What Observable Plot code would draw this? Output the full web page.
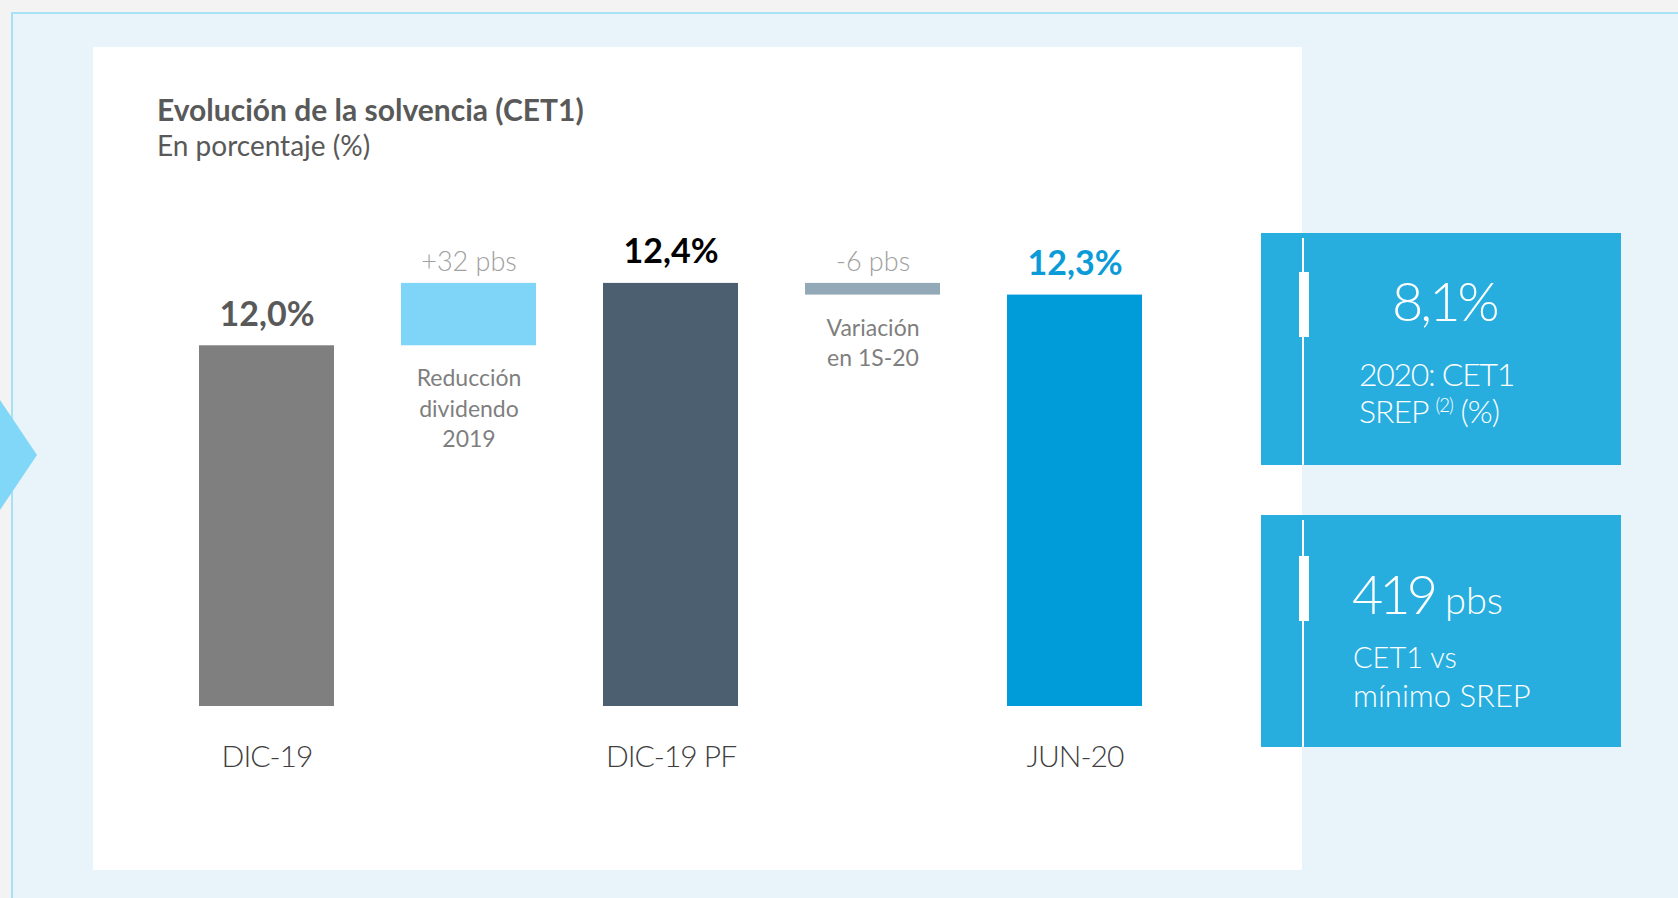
<!DOCTYPE html>
<html>
<head>
<meta charset="utf-8">
<script src="https://cdn.jsdelivr.net/npm/d3@7"></script>
<script src="https://cdn.jsdelivr.net/npm/@observablehq/plot@0.6"></script>
<style>
  html, body { margin: 0; padding: 0; }
  body { width: 1678px; height: 898px; overflow: hidden; background: #f3f3f3; position: relative; font-family: Lato, sans-serif; }
  #panel { position: absolute; left: 11px; top: 12px; width: 1700px; height: 900px; background: #e8f4f9; border-left: 2px solid #a6e1f6; border-top: 2px solid #a6e1f6; }
  #arrow { position: absolute; left: 0; top: 400px; width: 37px; height: 110px; background: #80d7f7; clip-path: polygon(0 0, 100% 50%, 0 100%); }
  #card { position: absolute; left: 93px; top: 47px; width: 1209px; height: 823px; background: #ffffff; }
  #title { position: absolute; left: 157px; top: 94px; font-size: 30px; font-weight: 700; color: #595959; line-height: 1; white-space: nowrap; }
  #subtitle { position: absolute; left: 157px; top: 131px; font-size: 28px; font-weight: 400; color: #595959; line-height: 1; white-space: nowrap; }
  #chart { position: absolute; left: 93px; top: 200px; }
  .box { position: absolute; left: 1261px; width: 360px; height: 232px; background: #27aedf; color: #ffffff; }
  .vline { position: absolute; left: 41px; top: 5px; bottom: 0; width: 2px; background: #ffffff; }
  .knob { position: absolute; left: 38px; width: 10px; height: 65px; background: #ffffff; }
  .t { position: absolute; line-height: 1; white-space: nowrap; font-weight: 300; }
  .t sup { font-size: 0.58em; vertical-align: 0; position: relative; top: -0.62em; }
  g[aria-label="delta-values"] text { letter-spacing: 1.8px; }
  g[aria-label="delta-notes"] text { letter-spacing: 1.3px; }
  g[aria-label="x-axis tick label"] text { letter-spacing: -1px; font-weight: 300; }
</style>
</head>
<body>
<div id="panel"></div>
<div id="arrow"></div>
<div id="card"></div>
<div id="title"></div>
<div id="subtitle"></div>
<div id="chart"></div>
<div id="boxes"></div>
<script>
// ---- Data ----
const titleText = "Evolución de la solvencia (CET1)";
const subtitleText = "En porcentaje (%)";
const stepIds = ["DIC-19", "DIV-2019", "DIC-19 PF", "VAR-1S20", "JUN-20"];
const stepKinds = ["total", "delta", "total", "delta", "total"];
const stepValues = [12.04, 0.32, 12.36, -0.06, 12.30];
const valueLabels = ["12,0%", "+32 pbs", "12,4%", "-6 pbs", "12,3%"];
const tickLabels = ["DIC-19", "", "DIC-19 PF", "", "JUN-20"];
const deltaNotes = ["", "Reducción\ndividendo\n2019", "", "Variación\nen 1S-20", ""];
const sideValues = ["8,1%", "419"];
const sideUnits = ["", "pbs"];
const sideCaptions = [["2020: CET1", "SREP (2) (%)"], ["CET1 vs", "mínimo SREP"]];

// ---- Styles ----
const barColors = ["#7f7f7f", "#7fd5f7", "#4b5f71", "#94a9b8", "#009cd9"];
const labelColors = ["#595959", "#a0a0a0", "#000000", "#a0a0a0", "#0a9bd8"];
const yDomain = [10.19, 12.58];

document.getElementById("title").textContent = titleText;
document.getElementById("subtitle").textContent = subtitleText;

// waterfall table
let running = 0;
const rows = stepIds.map((id, i) => {
  let y1, y2;
  if (stepKinds[i] === "total") { y1 = yDomain[0]; y2 = stepValues[i]; }
  else { y1 = running; y2 = running + stepValues[i]; }
  running = y2;
  return { id, i, kind: stepKinds[i], y1, y2, top: Math.max(y1, y2), bottom: Math.min(y1, y2), label: valueLabels[i], note: deltaNotes[i] };
});
const totals = rows.filter(d => d.kind === "total");
const deltas = rows.filter(d => d.kind === "delta");

const chart = Plot.plot({
  width: 1209,
  height: 590,
  marginTop: 40,
  marginBottom: 84,
  marginLeft: 36.5,
  marginRight: 91.5,
  style: { fontFamily: "Lato, sans-serif", background: "transparent", overflow: "visible" },
  x: { domain: stepIds, padding: 0.333, axis: null },
  y: { domain: yDomain, axis: null },
  color: { domain: stepIds, range: barColors },
  marks: [
    Plot.barY(rows, { x: "id", y1: "y1", y2: "y2", fill: "id" }),
    Plot.axisX({ tickSize: 0, tickPadding: 39, tickFormat: d => tickLabels[stepIds.indexOf(d)], fontSize: 30, fontWeight: 300, fill: "#404040", label: null }),
    Plot.text(totals, { x: "id", y: "top", text: "label", lineAnchor: "bottom", dy: -20, fontSize: 34, fontWeight: "bold", fill: { value: d => labelColors[d.i], scale: null } }),
    Plot.text(deltas, { x: "id", y: "top", text: "label", lineAnchor: "bottom", dy: -12, fontSize: 27, fontWeight: 300, fill: { value: d => labelColors[d.i], scale: null }, ariaLabel: "delta-values" }),
    Plot.text(deltas, { x: "id", y: "bottom", text: "note", lineAnchor: "top", dy: 19, fontSize: 23, lineHeight: 1.32, fill: "#7f7f7f", ariaLabel: "delta-notes" })
  ]
});
document.getElementById("chart").appendChild(chart);

// side boxes
const boxTops = [233, 515];
const knobTops = [39, 41];
const boxesEl = document.getElementById("boxes");
sideValues.forEach((v, i) => {
  const b = document.createElement("div");
  b.className = "box";
  b.style.top = boxTops[i] + "px";
  const cap = sideCaptions[i].map(s => s.replace("(2)", "<sup>(2)</sup>"));
  let html = `<div class="vline"></div><div class="knob" style="top:${knobTops[i]}px"></div>`;
  if (i === 0) {
    html += `<div class="t" style="left:131px;top:41px;font-size:54px;letter-spacing:-3px">${v}</div>`;
    html += `<div class="t" style="left:98px;top:125px;font-size:32px;letter-spacing:-1.3px">${cap[0]}</div>`;
    html += `<div class="t" style="left:98px;top:162px;font-size:32px;letter-spacing:-1px">${cap[1]}</div>`;
  } else {
    html += `<div class="t" style="left:91px;top:52px;font-size:54px;letter-spacing:-4px">${v}<span style="font-size:38px;letter-spacing:0;margin-left:11px">${sideUnits[i]}</span></div>`;
    html += `<div class="t" style="left:92px;top:127px;font-size:29px">${cap[0]}</div>`;
    html += `<div class="t" style="left:92px;top:165px;font-size:31px">${cap[1]}</div>`;
  }
  b.innerHTML = html;
  boxesEl.appendChild(b);
});
</script>
</body>
</html>
